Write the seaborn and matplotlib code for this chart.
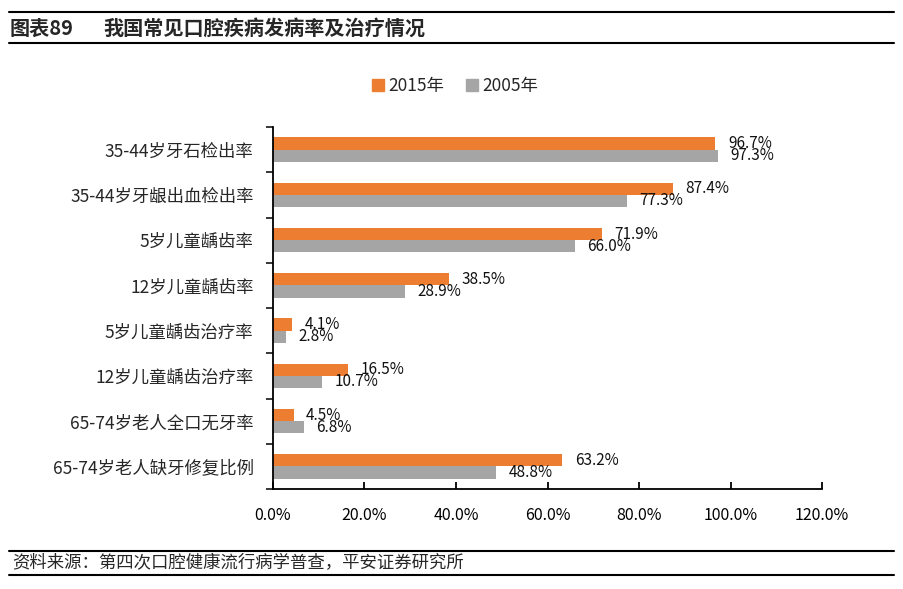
import matplotlib
matplotlib.use("Agg")
import matplotlib.pyplot as plt
import seaborn as sns
import pandas as pd
import numpy as np
from matplotlib.lines import Line2D
from matplotlib.ticker import FixedLocator, FuncFormatter

categories = ["35-44岁牙石检出率", "35-44岁牙龈出血检出率", "5岁儿童龋齿率", "12岁儿童龋齿率",
              "5岁儿童龋齿治疗率", "12岁儿童龋齿治疗率", "65-74岁老人全口无牙率", "65-74岁老人缺牙修复比例"]
series_names = ["2015年", "2005年"]
values_2015 = [96.7, 87.4, 71.9, 38.5, 4.1, 16.5, 4.5, 63.2]
values_2005 = [97.3, 77.3, 66.0, 28.9, 2.8, 10.7, 6.8, 48.8]
x_ticks = [0, 20, 40, 60, 80, 100, 120]

title_prefix = "图表89"
title_text = "我国常见口腔疾病发病率及治疗情况"
source_text = "资料来源：第四次口腔健康流行病学普查，平安证券研究所"

sns.set_style("white")
plt.rcParams["font.family"] = ["Noto Sans CJK SC", "DejaVu Sans"]

df = pd.DataFrame({
    "cat": categories * 2,
    "val": values_2015 + values_2005,
    "year": [series_names[0]] * len(categories) + [series_names[1]] * len(categories),
})

W, H = 904, 589
fig = plt.figure(figsize=(W / 100, H / 100), dpi=100)
ax = fig.add_axes([273 / W, 1 - 489 / H, (822 - 273) / W, (489 - 127) / H])

colors = {"2015年": "#ED7D31", "2005年": "#A5A5A5"}
sns.barplot(data=df, y="cat", x="val", hue="year", orient="h", order=categories,
            hue_order=series_names, palette=colors, width=0.54, ax=ax,
            saturation=1, legend=False, linewidth=0)

for cont in ax.containers:
    ax.bar_label(cont, labels=[f"{v:.1f}%" for v in cont.datavalues], padding=9,
                 fontsize=11, color="#111111")

ax.set_xlim(0, 120)
ax.set_ylim(len(categories) - 0.5, -0.5)
ax.set_xticks(x_ticks)
ax.xaxis.set_major_formatter(FuncFormatter(lambda v, p: f"{v:.1f}%"))
ax.tick_params(axis="x", direction="in", length=5, width=1.3, pad=13, labelsize=11.5,
               colors="black", bottom=True)
ax.tick_params(axis="y", which="major", length=0, pad=14, labelsize=12.5)
ax.yaxis.set_minor_locator(FixedLocator(np.arange(-0.5, len(categories), 1.0)))
ax.tick_params(axis="y", which="minor", direction="out", length=5, width=1.3, left=True)
ax.set_xlabel("")
ax.set_ylabel("")
for s in ["top", "right"]:
    ax.spines[s].set_visible(False)
for s in ["left", "bottom"]:
    ax.spines[s].set_color("black")
    ax.spines[s].set_linewidth(1.3)
ax.grid(False)

handles = [Line2D([0], [0], marker="s", linestyle="none", markersize=8,
                  markerfacecolor=colors[n], markeredgecolor=colors[n]) for n in series_names]
fig.legend(handles, series_names, loc="center", bbox_to_anchor=(455 / W, 1 - 86 / H), ncol=2,
           frameon=False, fontsize=12.5, handletextpad=0.2, columnspacing=1.2, handlelength=0.8)

fig.text(10 / W, 1 - 28 / H, title_prefix, fontsize=14.5, fontweight="bold", va="center", ha="left")
fig.text(103 / W, 1 - 28 / H, title_text, fontsize=14.5, fontweight="bold", va="center", ha="left")
fig.text(12 / W, 1 - 563 / H, source_text, fontsize=12.5, va="center", ha="left", fontstyle="italic")

for yy in [12, 43, 551, 575]:
    fig.add_artist(Line2D([9 / W, 894 / W], [1 - yy / H, 1 - yy / H], color="black", linewidth=1.5,
                          transform=fig.transFigure))

fig.savefig("out.png", dpi=100)
